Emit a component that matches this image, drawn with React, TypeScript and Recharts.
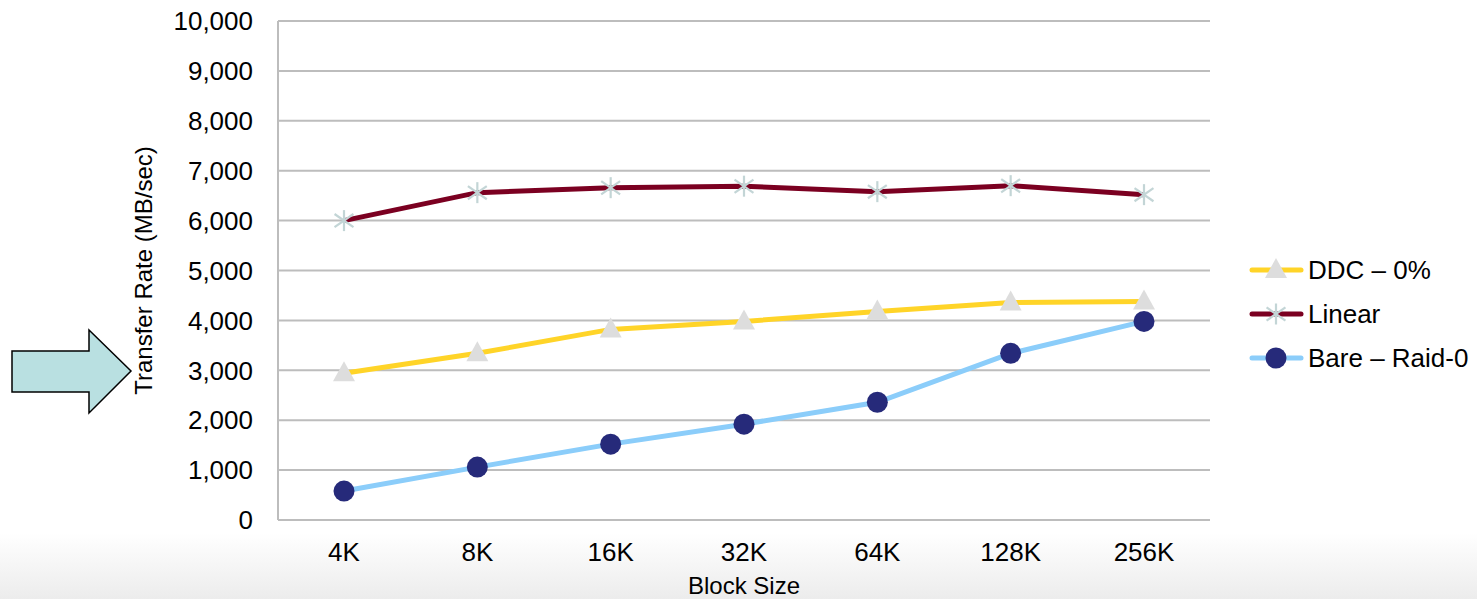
import React from 'react';
import { LineChart, Line, XAxis, YAxis, CartesianGrid } from 'recharts';

const blockSizes = ['4K', '8K', '16K', '32K', '64K', '128K', '256K'];
const ddc = [2940, 3340, 3820, 3980, 4180, 4360, 4380];
const linear = [6000, 6560, 6660, 6690, 6580, 6700, 6520];
const bare = [580, 1060, 1520, 1920, 2360, 3340, 3980];
const yTicks = [0, 1000, 2000, 3000, 4000, 5000, 6000, 7000, 8000, 9000, 10000];

const seriesInfo = [
  { key: 'ddc', name: 'DDC – 0%', color: '#ffd428', marker: 'triangle' },
  { key: 'linear', name: 'Linear', color: '#7b0021', marker: 'star' },
  { key: 'bare', name: 'Bare – Raid-0', color: '#8bcdfa', marker: 'circle' },
];

const data = blockSizes.map((b, i) => ({
  name: b,
  ddc: ddc[i],
  linear: linear[i],
  bare: bare[i],
}));

const FONT = '"Liberation Sans", Arial, sans-serif';
const GRID = '#bdbdbd';

const Marker = ({ type, cx, cy }: { type: string; cx: number; cy: number }) => {
  if (type === 'triangle') {
    return <polygon points={`${cx},${cy - 12} ${cx + 11},${cy + 8} ${cx - 11},${cy + 8}`} fill="#dddddd" />;
  }
  if (type === 'star') {
    const r = 10.5;
    const d = r * 0.9;
    return (
      <g stroke="#c3d5d6" strokeWidth={2.2}>
        <line x1={cx} y1={cy - r} x2={cx} y2={cy + r} />
        <line x1={cx - d} y1={cy - d * 0.7} x2={cx + d} y2={cy + d * 0.7} />
        <line x1={cx - d} y1={cy + d * 0.7} x2={cx + d} y2={cy - d * 0.7} />
      </g>
    );
  }
  return <circle cx={cx} cy={cy} r={10.5} fill="#262a7a" />;
};

const makeDot = (type: string) => (props: any) => {
  const { cx, cy, index } = props;
  if (cx == null || cy == null) return <g key={index} />;
  return <Marker key={index} type={type} cx={cx} cy={cy} />;
};

const ChartLegend = () => (
  <div
    style={{
      position: 'absolute',
      left: 1247,
      top: 248,
      fontFamily: FONT,
      fontSize: 26,
      color: '#000',
    }}
  >
    {seriesInfo.map((s) => (
      <div key={s.key} style={{ display: 'flex', alignItems: 'center', height: 44 }}>
        <svg width={58} height={26}>
          <line x1={5} y1={13} x2={54} y2={13} stroke={s.color} strokeWidth={5} strokeLinecap="round" />
          <Marker type={s.marker} cx={29} cy={13} />
        </svg>
        <span style={{ marginLeft: 3, whiteSpace: 'nowrap' }}>{s.name}</span>
      </div>
    ))}
  </div>
);

const Arrow = () => (
  <svg width={140} height={100} style={{ position: 'absolute', left: 0, top: 320 }}>
    <polygon
      points="12,31 89,31 89,10 131,51 89,93 89,72 12,72"
      fill="#b9e0e1"
      stroke="#000"
      strokeWidth={1.5}
    />
  </svg>
);

export default function App() {
  return (
    <div
      style={{
        position: 'absolute',
        left: 0,
        top: 0,
        width: 1477,
        height: 599,
        overflow: 'hidden',
        background: 'linear-gradient(to bottom, #ffffff 0%, #ffffff 89%, #ececec 100%)',
      }}
    >
      <Arrow />
      <LineChart
        width={1477}
        height={599}
        data={data}
        margin={{ top: 21, right: 267, bottom: 0, left: 0 }}
        style={{ fontFamily: FONT }}
      >
        <CartesianGrid vertical={false} stroke={GRID} strokeWidth={2} />
        <XAxis
          dataKey="name"
          height={79}
          padding={{ left: 66, right: 66 }}
          tickSize={0}
          tickMargin={23}
          axisLine={{ stroke: GRID, strokeWidth: 2 }}
          tick={{ fill: '#000', fontSize: 26 }}
          label={{ value: 'Block Size', position: 'insideBottom', offset: 5, fill: '#000', fontSize: 24 }}
        />
        <YAxis
          width={278}
          domain={[0, 10000]}
          ticks={yTicks}
          interval={0}
          tickSize={0}
          tickMargin={25}
          axisLine={{ stroke: GRID, strokeWidth: 2 }}
          tick={{ fill: '#000', fontSize: 26 }}
          tickFormatter={(v: number) => v.toLocaleString('en-US')}
          label={{
            value: 'Transfer Rate (MB/sec)',
            angle: -90,
            position: 'insideLeft',
            offset: 143,
            fill: '#000',
            fontSize: 24,
            style: { textAnchor: 'middle' },
          }}
        />
        <YAxis
          yAxisId="right"
          orientation="right"
          width={0}
          domain={[0, 10000]}
          tick={false}
          tickLine={false}
          axisLine={{ stroke: GRID, strokeWidth: 2 }}
        />
        <Line
          dataKey="ddc"
          name="DDC – 0%"
          stroke="#ffd428"
          strokeWidth={5}
          dot={makeDot('triangle')}
          isAnimationActive={false}
        />
        <Line
          dataKey="linear"
          name="Linear"
          stroke="#7b0021"
          strokeWidth={5}
          dot={makeDot('star')}
          isAnimationActive={false}
        />
        <Line
          dataKey="bare"
          name="Bare – Raid-0"
          stroke="#8bcdfa"
          strokeWidth={5}
          dot={makeDot('circle')}
          isAnimationActive={false}
        />
      </LineChart>
      <ChartLegend />
    </div>
  );
}
